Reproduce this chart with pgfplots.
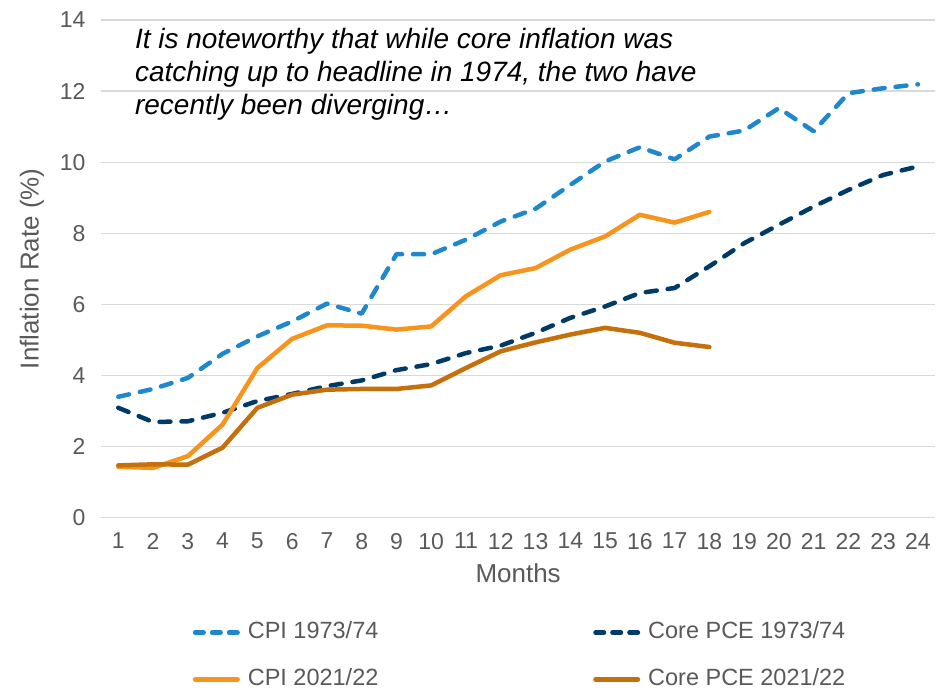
\documentclass[border=0pt]{standalone}
\usepackage{pgfplots}
\pgfplotsset{compat=1.18}
\usepackage{fontspec}
\setmainfont{Liberation Sans}
\definecolor{cpiold}{HTML}{1F88CC}
\definecolor{coreold}{HTML}{003B68}
\definecolor{cpinew}{HTML}{F7941D}
\definecolor{corenew}{HTML}{C5700A}
\definecolor{txtgray}{HTML}{595959}
\definecolor{gridgray}{HTML}{D9D9D9}
\begin{document}
\begin{tikzpicture}
\path (0bp,0bp) rectangle (936bp,692bp);
\begin{axis}[
  at={(101bp,174bp)}, anchor=south west,
  width=835bp, height=498bp, scale only axis,
  xmin=0.5, xmax=24.5, ymin=0, ymax=14,
  xtick={1,...,24}, ytick={0,2,...,14},
  /pgf/number format/assume math mode=true,
  axis line style={draw=none},
  major tick length=0pt,
  ymajorgrids, grid style={gridgray, line width=1.3bp},
  tick label style={font=\fontsize{23bp}{27bp}\selectfont, text=txtgray},
  yticklabel style={xshift=-12bp},
  xticklabel style={yshift=-12bp},
  xlabel={Months}, ylabel={Inflation Rate (\%)},
  label style={font=\fontsize{26bp}{30bp}\selectfont, text=txtgray},
  xlabel style={at={(rel axis cs:0.5,0)}, anchor=north, yshift=-46bp, inner sep=0pt},
  ylabel style={at={(rel axis cs:0,0.5)}, anchor=center, yshift=69bp, inner sep=0pt},
  clip=false,
  legend columns=2,
  legend image code/.code={\draw[#1] (2.25bp,0bp) -- (44.75bp,0bp);},
  legend style={
    at={(axis description cs:0.1102,-0.2088)}, anchor=north west,
    draw=none, fill=none, inner sep=0pt, outer sep=0pt,
    font=\fontsize{23.5bp}{27bp}\selectfont, text=txtgray,
    cells={anchor=west},
    nodes={inner sep=0pt, text height=17bp, text depth=5bp},
    row sep=25bp,
    /tikz/every odd column/.append style={column sep=8bp},
    /tikz/every even column/.append style={column sep=215bp},
  },
  every axis plot/.append style={line width=4.5bp, line join=round, line cap=round},
]
\addplot[cpiold, dash pattern=on 11bp off 11bp,
  legend image post style={dash pattern=on 8.5bp off 8.5bp}] coordinates {
(1,3.40) (2,3.62) (3,3.93) (4,4.61) (5,5.10) (6,5.52) (7,6.02) (8,5.74)
(9,7.41) (10,7.41) (11,7.82) (12,8.33) (13,8.69) (14,9.36) (15,10.02) (16,10.42)
(17,10.08) (18,10.72) (19,10.89) (20,11.52) (21,10.87) (22,11.94) (23,12.08) (24,12.19)};
\addlegendentry{CPI 1973/74}
\addplot[coreold, dash pattern=on 11bp off 11bp,
  legend image post style={dash pattern=on 8.5bp off 8.5bp}] coordinates {
(1,3.09) (2,2.69) (3,2.71) (4,2.95) (5,3.28) (6,3.48) (7,3.70) (8,3.86)
(9,4.15) (10,4.32) (11,4.63) (12,4.84) (13,5.20) (14,5.62) (15,5.94) (16,6.32)
(17,6.46) (18,7.07) (19,7.72) (20,8.24) (21,8.75) (22,9.22) (23,9.64) (24,9.88)};
\addlegendentry{Core PCE 1973/74}
\addplot[cpinew] coordinates {
(1,1.43) (2,1.40) (3,1.73) (4,2.62) (5,4.21) (6,5.03) (7,5.41) (8,5.40)
(9,5.29) (10,5.38) (11,6.23) (12,6.82) (13,7.02) (14,7.54) (15,7.91) (16,8.52)
(17,8.30) (18,8.60)};
\addlegendentry{CPI 2021/22}
\addplot[corenew] coordinates {
(1,1.47) (2,1.50) (3,1.49) (4,1.97) (5,3.09) (6,3.46) (7,3.60) (8,3.62)
(9,3.62) (10,3.72) (11,4.21) (12,4.68) (13,4.93) (14,5.15) (15,5.34) (16,5.20)
(17,4.92) (18,4.80)};
\addlegendentry{Core PCE 2021/22}
\node[anchor=north west, align=left, inner sep=0pt,
  font=\fontsize{28bp}{33bp}\selectfont\itshape]
  at (rel axis cs:0.0407,0.984)
  {It is noteworthy that while core inflation was\\
   catching up to headline in 1974, the two have\\
   recently been diverging\ldots};
\end{axis}
\end{tikzpicture}
\end{document}
